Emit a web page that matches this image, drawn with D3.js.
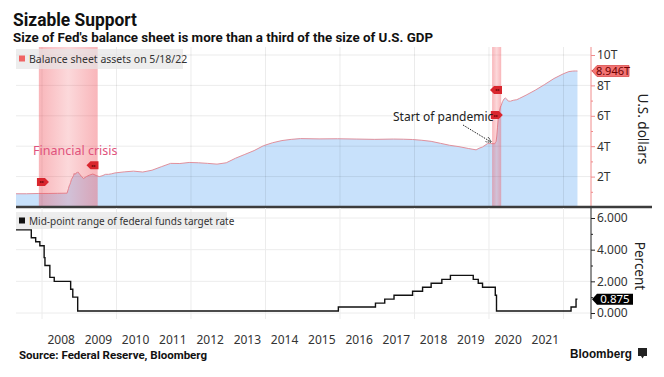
<!DOCTYPE html>
<html>
<head>
<meta charset="utf-8">
<script src="https://cdn.jsdelivr.net/npm/d3@7"></script>
<style>
  body { margin: 0; background: #fff; }
  svg { display: block; }
</style>
</head>
<body>
<div id="chart"></div>
<script>
// Year labels along the bottom
const years = [2008, 2009, 2010, 2011, 2012, 2013, 2014, 2015, 2016, 2017, 2018, 2019, 2020, 2021];

// Fed balance sheet total assets (trillions of USD)
const balanceDates = [
  "2007-04-01", "2007-08-01", "2007-12-01", "2008-03-01", "2008-06-01", "2008-09-03",
  "2008-09-17", "2008-09-24", "2008-10-01", "2008-10-08", "2008-10-15", "2008-10-29",
  "2008-11-05", "2008-11-12", "2008-11-19", "2008-11-26", "2008-12-10", "2008-12-17",
  "2009-01-07", "2009-01-21", "2009-02-11", "2009-03-11", "2009-04-08", "2009-05-13",
  "2009-06-17", "2009-07-15", "2009-08-12", "2009-09-16", "2009-10-14", "2009-11-11",
  "2009-12-16", "2010-03-17", "2010-06-16", "2010-09-15", "2010-12-15", "2011-03-16",
  "2011-06-15", "2011-09-14", "2011-12-14", "2012-03-14", "2012-06-13", "2012-09-12",
  "2012-12-12", "2013-03-13", "2013-06-12", "2013-09-11", "2013-12-11", "2014-03-12",
  "2014-06-11", "2014-09-10", "2014-12-10", "2015-06-10", "2015-12-09", "2016-06-08",
  "2016-12-07", "2017-06-07", "2017-09-13", "2017-12-13", "2018-03-14", "2018-06-13",
  "2018-09-12", "2018-12-12", "2019-03-13", "2019-06-12", "2019-08-28", "2019-09-25",
  "2019-10-30", "2019-12-18", "2020-01-15", "2020-02-26", "2020-03-04", "2020-03-11",
  "2020-03-18", "2020-03-25", "2020-04-01", "2020-04-08", "2020-04-15", "2020-04-22",
  "2020-04-29", "2020-05-13", "2020-05-27", "2020-06-10", "2020-06-24", "2020-07-08",
  "2020-07-29", "2020-08-26", "2020-09-30", "2020-10-28", "2020-12-30", "2021-03-31",
  "2021-06-30", "2021-09-29", "2021-12-29", "2022-02-23", "2022-03-30", "2022-04-27",
  "2022-05-18"
];
const balanceValues = [
  0.87, 0.87, 0.89, 0.89, 0.90, 0.91,
  1.22, 1.39, 1.49, 1.62, 1.80, 1.97,
  2.06, 2.21, 2.14, 2.21, 2.26, 2.31,
  2.14, 2.02, 1.87, 2.00, 2.09, 2.17,
  2.07, 2.00, 2.05, 2.15, 2.15, 2.18,
  2.24, 2.31, 2.36, 2.30, 2.42, 2.65,
  2.87, 2.86, 2.93, 2.91, 2.87, 2.82,
  2.91, 3.21, 3.46, 3.71, 4.03, 4.23,
  4.37, 4.45, 4.50, 4.48, 4.49, 4.47,
  4.45, 4.47, 4.46, 4.44, 4.39, 4.32,
  4.19, 4.06, 3.97, 3.85, 3.76, 3.86,
  3.95, 4.17, 4.17, 4.16, 4.24, 4.31,
  4.67, 5.25, 5.81, 6.13, 6.37, 6.57,
  6.66, 6.93, 7.10, 7.17, 7.09, 6.97,
  6.96, 7.02, 7.06, 7.15, 7.36, 7.69,
  8.06, 8.45, 8.76, 8.91, 8.94, 8.95,
  8.946
];

// Mid-point of the federal funds target range (percent), step changes
const rateDates = [
  "2007-04-01", "2007-09-18", "2007-10-31", "2007-12-11", "2008-01-22", "2008-01-30",
  "2008-03-18", "2008-04-30", "2008-10-08", "2008-10-29", "2008-12-16", "2015-12-16",
  "2016-12-14", "2017-03-15", "2017-06-14", "2017-12-13", "2018-03-21", "2018-06-13",
  "2018-09-26", "2018-12-19", "2019-07-31", "2019-09-18", "2019-10-30", "2020-03-03",
  "2020-03-15", "2022-03-16", "2022-05-04", "2022-05-18"
];
const rateValues = [
  5.25, 4.75, 4.5, 4.25, 3.5, 3.0,
  2.25, 2.0, 1.5, 1.0, 0.125, 0.375,
  0.625, 0.875, 1.125, 1.375, 1.625, 1.875,
  2.125, 2.375, 2.125, 1.875, 1.625, 1.125,
  0.125, 0.375, 0.875, 0.875
];

// Recession shading
const recessionStarts = ["2007-12-01", "2020-02-01"];
const recessionEnds = ["2009-06-30", "2020-04-30"];

// Small event flags on the balance sheet panel
const markerDates = ["2008-01-10", "2009-05-10", "2020-03-10", "2020-03-18"];
const markerValues = [1.65, 2.75, 7.7, 6.05];
const markerDirs = [1, -1, -1, 1];

const dollarTicks = [2, 4, 6, 8, 10];
const dollarMinor = [1, 3, 5, 7, 9];
const percentTicks = [0, 2, 4, 6];
const percentMinor = [1, 3, 5];

const W = 664, H = 377;
const left = 16, right = 591;
const parse = d3.timeParse("%Y-%m-%d");
const font = "'Noto Sans', sans-serif";

const svg = d3.select("#chart").append("svg")
  .attr("width", W).attr("height", H)
  .style("font-family", font);

const x = d3.scaleTime()
  .domain([parse("2008-01-01"), parse("2022-01-01")])
  .range([42, 563.5]);
const yTop = d3.scaleLinear().domain([0, 10]).range([207, 55]);
const yBot = d3.scaleLinear().domain([0, 6]).range([313, 218]);

const topPanel = { y0: 47, y1: 206 };
const botPanel = { y0: 208, y1: 319 };

const defs = svg.append("defs");
defs.append("clipPath").attr("id", "clipTop").append("rect")
  .attr("x", left).attr("y", topPanel.y0).attr("width", right - left).attr("height", topPanel.y1 - topPanel.y0);
defs.append("clipPath").attr("id", "clipBot").append("rect")
  .attr("x", left).attr("y", botPanel.y0).attr("width", right - left).attr("height", botPanel.y1 - botPanel.y0);

const grad = defs.append("linearGradient").attr("id", "recGrad").attr("x1", 0).attr("x2", 1).attr("y1", 0).attr("y2", 0);
grad.append("stop").attr("offset", "0%").attr("stop-color", "#f0505a").attr("stop-opacity", 0.42);
grad.append("stop").attr("offset", "50%").attr("stop-color", "#f0505a").attr("stop-opacity", 0.22);
grad.append("stop").attr("offset", "100%").attr("stop-color", "#f0505a").attr("stop-opacity", 0.42);

// Title block
svg.append("text").attr("x", 13).attr("y", 26)
  .attr("font-family", "Roboto, sans-serif").attr("font-weight", "bold").attr("font-size", 19)
  .attr("textLength", 124).attr("lengthAdjust", "spacingAndGlyphs")
  .attr("fill", "#111").text("Sizable Support");
svg.append("text").attr("x", 13).attr("y", 42)
  .attr("font-family", "Roboto, sans-serif").attr("font-weight", "bold").attr("font-size", 12.5)
  .attr("textLength", 420).attr("lengthAdjust", "spacingAndGlyphs")
  .attr("fill", "#111").text("Size of Fed's balance sheet is more than a third of the size of U.S. GDP");

const gridYears = [2008, 2010, 2012, 2014, 2016, 2018, 2020, 2022].map(y => parse(`${y}-01-01`));

// Balance sheet area
const balance = balanceDates.map((d, i) => ({ date: parse(d), value: balanceValues[i] }));
const gTop = svg.append("g").attr("clip-path", "url(#clipTop)");
gTop.append("path").datum(balance)
  .attr("d", d3.area().x(d => x(d.date)).y0(yTop(0)).y1(d => yTop(d.value)))
  .attr("fill", "#c8e1fb");

// Gridlines drawn lightly over the area
gTop.append("g").selectAll("line").data(gridYears).join("line")
  .attr("x1", d => x(d)).attr("x2", d => x(d))
  .attr("y1", topPanel.y0).attr("y2", topPanel.y1)
  .attr("stroke", "#000").attr("stroke-opacity", 0.08);
gTop.append("g").selectAll("line").data(dollarTicks).join("line")
  .attr("x1", left).attr("x2", right)
  .attr("y1", d => yTop(d)).attr("y2", d => yTop(d))
  .attr("stroke", "#000").attr("stroke-opacity", 0.08);

gTop.append("path").datum(balance)
  .attr("d", d3.line().x(d => x(d.date)).y(d => yTop(d.value)))
  .attr("fill", "none").attr("stroke", "#e0909c").attr("stroke-width", 1);

// Recession bands
recessionStarts.forEach((s, i) => {
  gTop.append("rect")
    .attr("x", x(parse(s))).attr("y", topPanel.y0)
    .attr("width", x(parse(recessionEnds[i])) - x(parse(s)))
    .attr("height", topPanel.y1 - topPanel.y0)
    .attr("fill", "url(#recGrad)");
});

// Event flags
markerDates.forEach((d, i) => {
  const cx = x(parse(d)), cy = yTop(markerValues[i]), dir = markerDirs[i];
  const pts = [[-6 * dir, -4], [2 * dir, -4], [6 * dir, 0], [2 * dir, 4], [-6 * dir, 4]];
  svg.append("path")
    .attr("d", d3.line()(pts.map(p => [cx + p[0], cy + p[1]])) + "Z")
    .attr("fill", "#d9262e");
  svg.append("text").attr("x", cx - dir).attr("y", cy + 1.5)
    .attr("text-anchor", "middle").attr("font-size", 4).attr("fill", "#5a0000")
    .text(dir > 0 ? "▸▸" : "◂◂");
});

// Legends
svg.append("rect").attr("x", left).attr("y", 49).attr("width", 167).attr("height", 20)
  .attr("fill", "#e6e6e6").attr("fill-opacity", 0.7);
svg.append("rect").attr("x", 19).attr("y", 55.5).attr("width", 6).attr("height", 6).attr("fill", "#f06464");
svg.append("text").attr("x", 29).attr("y", 62.5).attr("font-size", 10.5).attr("fill", "#333")
  .text("Balance sheet assets on 5/18/22");

// Annotations
svg.append("text").attr("x", 33).attr("y", 155).attr("font-size", 12.5).attr("fill", "#e0527c")
  .text("Financial crisis");
svg.append("text").attr("x", 393).attr("y", 121).attr("font-size", 12).attr("fill", "#222")
  .text("Start of pandemic");
defs.append("marker").attr("id", "arrow").attr("viewBox", "0 0 10 10").attr("refX", 9).attr("refY", 5)
  .attr("markerWidth", 6).attr("markerHeight", 6).attr("orient", "auto")
  .append("path").attr("d", "M0,0L10,5L0,10").attr("fill", "none").attr("stroke", "#222").attr("stroke-width", 1.5)
  .attr("stroke-dasharray", "2,1");
svg.append("line").attr("x1", 463).attr("y1", 125).attr("x2", 491).attr("y2", 142)
  .attr("stroke", "#222").attr("stroke-width", 1).attr("stroke-dasharray", "1.5,1.2")
  .attr("marker-end", "url(#arrow)");

// Top right axis
const axTop = svg.append("g").attr("transform", `translate(${right},0)`);
axTop.append("line").attr("y1", topPanel.y0).attr("y2", 207).attr("stroke", "#f08c8c");
axTop.append("g")
  .call(d3.axisRight(yTop).tickValues(dollarMinor).tickSize(2).tickFormat(""))
  .call(a => a.select(".domain").remove())
  .call(a => a.selectAll("line").attr("stroke", "#f08c8c"));
axTop.append("g")
  .call(d3.axisRight(yTop).tickValues(dollarTicks).tickSize(4).tickPadding(2).tickFormat(d => d + "T"))
  .call(a => a.select(".domain").remove())
  .call(a => a.selectAll("line").attr("stroke", "#f08c8c"))
  .call(a => a.selectAll("text").attr("font-size", 12).attr("font-family", font).attr("fill", "#333"));

// Latest balance value tag
const lastBal = balance[balance.length - 1];
const tagY = yTop(lastBal.value);
svg.append("path")
  .attr("d", `M${right + 1},${tagY} L${right + 6},${tagY - 5.5} L${right + 38},${tagY - 5.5} L${right + 38},${tagY + 5.5} L${right + 6},${tagY + 5.5} Z`)
  .attr("fill", "#f27474").attr("stroke", "#d84a4a").attr("stroke-width", 0.8);
svg.append("text").attr("x", right + 22).attr("y", tagY + 3.8).attr("text-anchor", "middle")
  .attr("font-size", 11).attr("fill", "#6e0000").text(d3.format(".3f")(lastBal.value) + "T");

svg.append("text").attr("transform", `translate(638,129) rotate(90)`)
  .attr("text-anchor", "middle").attr("font-size", 13.5).attr("fill", "#222").text("U.S. dollars");

// Panel separator
svg.append("line").attr("x1", left).attr("x2", 652).attr("y1", 207).attr("y2", 207)
  .attr("stroke", "#3c3c3c").attr("stroke-width", 2.5);

// Bottom panel gridlines
svg.append("g").selectAll("line").data(gridYears).join("line")
  .attr("x1", d => x(d)).attr("x2", d => x(d))
  .attr("y1", botPanel.y0).attr("y2", botPanel.y1)
  .attr("stroke", "#ececec");
svg.append("g").selectAll("line").data(percentTicks).join("line")
  .attr("x1", left).attr("x2", right)
  .attr("y1", d => yBot(d)).attr("y2", d => yBot(d))
  .attr("stroke", "#ececec");

// Fed funds rate step line
const rate = rateDates.map((d, i) => ({ date: parse(d), value: rateValues[i] }));
const gBot = svg.append("g").attr("clip-path", "url(#clipBot)");
gBot.append("path").datum(rate)
  .attr("d", d3.line().curve(d3.curveStepAfter).x(d => x(d.date)).y(d => yBot(d.value)))
  .attr("fill", "none").attr("stroke", "#111").attr("stroke-width", 1.4);

svg.append("rect").attr("x", left).attr("y", 212).attr("width", 211).attr("height", 17)
  .attr("fill", "#e6e6e6").attr("fill-opacity", 0.7);
svg.append("rect").attr("x", 19).attr("y", 217.5).attr("width", 6).attr("height", 6).attr("fill", "#111");
svg.append("text").attr("x", 29).attr("y", 224.5).attr("font-size", 10).attr("fill", "#333")
  .text("Mid-point range of federal funds target rate");

// Bottom right axis
const axBot = svg.append("g").attr("transform", `translate(${right},0)`);
axBot.append("line").attr("y1", 208).attr("y2", botPanel.y1).attr("stroke", "#222");
axBot.append("g")
  .call(d3.axisRight(yBot).tickValues(percentMinor).tickSize(2).tickFormat(""))
  .call(a => a.select(".domain").remove())
  .call(a => a.selectAll("line").attr("stroke", "#222"));
axBot.append("g")
  .call(d3.axisRight(yBot).tickValues(percentTicks).tickSize(4).tickPadding(2).tickFormat(d3.format(".3f")))
  .call(a => a.select(".domain").remove())
  .call(a => a.selectAll("line").attr("stroke", "#222"))
  .call(a => a.selectAll("text").attr("font-size", 12).attr("font-family", font).attr("fill", "#333"));

const lastRate = rate[rate.length - 1];
const rY = yBot(lastRate.value);
svg.append("path")
  .attr("d", `M${right + 1},${rY} L${right + 6},${rY - 5.5} L${right + 42},${rY - 5.5} L${right + 42},${rY + 5.5} L${right + 6},${rY + 5.5} Z`)
  .attr("fill", "#000");
svg.append("text").attr("x", right + 24).attr("y", rY + 3.8).attr("text-anchor", "middle")
  .attr("font-size", 11.5).attr("fill", "#fff").text(d3.format(".3f")(lastRate.value));

svg.append("text").attr("transform", `translate(635,266) rotate(90)`)
  .attr("text-anchor", "middle").attr("font-size", 13.5).attr("fill", "#222").text("Percent");

// Year axis (labels centred mid-year)
svg.append("g").attr("transform", `translate(0,332)`)
  .call(d3.axisBottom(x).tickValues(years.map(y => parse(`${y}-07-02`))).tickSize(0).tickFormat(d3.timeFormat("%Y")))
  .call(a => a.select(".domain").remove())
  .call(a => a.selectAll("text").attr("font-size", 12).attr("font-family", font).attr("fill", "#333"));

// Footer
svg.append("text").attr("x", 19).attr("y", 359)
  .attr("font-family", "Roboto, sans-serif").attr("font-weight", "bold").attr("font-size", 10.5)
  .attr("textLength", 188).attr("lengthAdjust", "spacingAndGlyphs")
  .attr("fill", "#111").text("Source: Federal Reserve, Bloomberg");
svg.append("text").attr("x", 570).attr("y", 358)
  .attr("font-family", "'Liberation Sans', Arial, sans-serif").attr("font-weight", "bold").attr("font-size", 12.5)
  .attr("textLength", 62).attr("lengthAdjust", "spacingAndGlyphs")
  .attr("fill", "#111").text("Bloomberg");
svg.append("path")
  .attr("d", "M638,348 h9 v8 h-3 l-1.5,2.5 l-1.5,-2.5 h-3 Z")
  .attr("fill", "#222");
</script>
</body>
</html>
